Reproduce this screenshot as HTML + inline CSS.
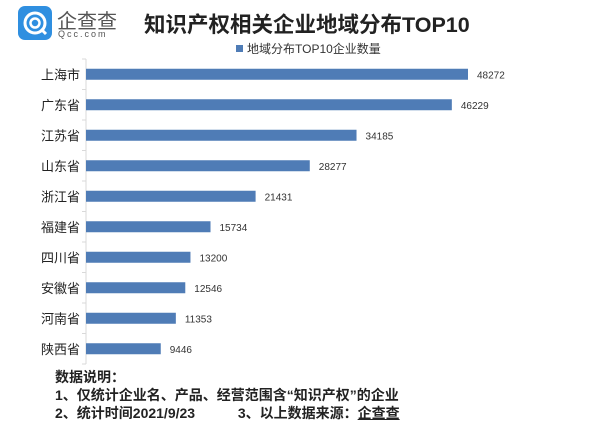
<!DOCTYPE html>
<html><head><meta charset="utf-8"><style>
body{margin:0;background:#fff;width:612px;height:431px;overflow:hidden;font-family:"Liberation Sans","Noto Sans CJK SC",sans-serif;}
.abs{position:absolute;}
</style></head><body>
<div class="abs" style="left:18px;top:6px;width:34px;height:34px;border-radius:7px;background:#2f8fe0;">
<svg width="34" height="34"><circle cx="17" cy="17" r="10" fill="none" stroke="#fff" stroke-width="3"/><circle cx="17" cy="17" r="4.5" fill="none" stroke="#fff" stroke-width="2.5"/><line x1="23" y1="23" x2="28" y2="28" stroke="#fff" stroke-width="3"/></svg></div>
<div class="abs" style="left:57px;top:5px;font-size:20px;color:#555;">企查查</div>
<div class="abs" style="left:58px;top:29px;font-size:9px;color:#555;letter-spacing:2px;">Qcc.com</div>
<div class="abs" style="left:144px;top:8px;font-size:21.5px;font-weight:bold;color:#222;">知识产权相关企业地域分布TOP10</div>
<div class="abs" style="left:236px;top:45px;width:7px;height:7px;background:#4f7cb6;"></div>
<div class="abs" style="left:247px;top:40px;font-size:12px;color:#333;">地域分布TOP10企业数量</div>
<svg class="abs" style="left:0;top:0" width="612" height="431" id="chart"></svg>
<div class="abs" style="left:55px;top:368px;font-size:14px;font-weight:bold;color:#222;line-height:18px;">
<div>数据说明：</div>
<div>1、仅统计企业名、产品、经营范围含“知识产权”的企业</div>
<div>2、统计时间2021/9/23&nbsp;&nbsp;&nbsp;&nbsp;&nbsp;&nbsp;&nbsp;&nbsp;&nbsp;&nbsp;&nbsp;3、以上数据来源：<u>企查查</u></div>
</div>
<script>
const categories=["上海市","广东省","江苏省","山东省","浙江省","福建省","四川省","安徽省","河南省","陕西省"];
const values=[48272,46229,34185,28277,21431,15734,13200,12546,11353,9446];
const svg=document.getElementById('chart');
const NS='http://www.w3.org/2000/svg';
const x0=86, xs=v=>x0+v*(382/48272);
const yTop=59, step=30.5, yc=i=>yTop+step*(i+0.5);
function mk(t,a){const e=document.createElementNS(NS,t);for(const k in a)e.setAttribute(k,a[k]);svg.appendChild(e);return e;}
const ax=mk('line',{x1:x0,y1:yTop,x2:x0,y2:yTop+step*10,stroke:'#d9d9d9'});


for(let i=0;i<=10;i++){const t=mk('line',{x1:x0-4,x2:x0,y1:yTop+step*i,y2:yTop+step*i,stroke:'#d9d9d9'});

}
categories.forEach((c,i)=>{
const r=mk('rect',{x:x0,y:yc(i)-5.5,width:xs(values[i])-x0,height:11,fill:'#4f7cb6'});


const l=mk('text',{x:x0-6,y:yc(i)+5,'text-anchor':'end','font-size':13,fill:'#222'});l.textContent=c;


const v=mk('text',{x:xs(values[i])+9,y:yc(i)+4,'font-size':10,fill:'#333'});v.textContent=values[i];


});
</script>
</body></html>
